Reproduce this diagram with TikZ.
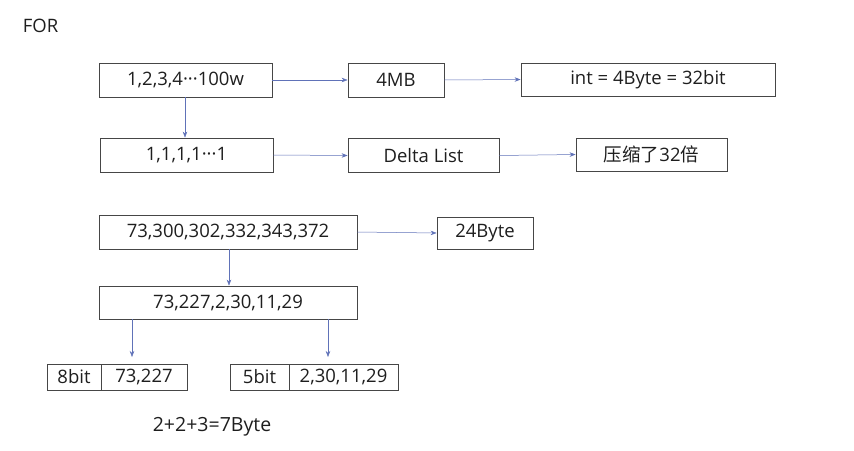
\documentclass[tikz,border=0pt]{standalone}
\usepackage{fontspec}
\setmainfont{Open Sans}
\newfontfamily\cjk{Noto Sans CJK SC}
\usetikzlibrary{arrows.meta}
\definecolor{arrowc}{RGB}{96,114,184}
\definecolor{boxc}{RGB}{70,70,70}
\definecolor{textc}{RGB}{30,30,30}
\begin{document}
\begin{tikzpicture}[x=1pt,y=-1pt,
  box/.style={draw=boxc,line width=0.8pt,inner sep=0pt,font=\fontsize{18.5}{21}\selectfont,text=textc},
  lbl/.style={inner sep=0pt,font=\fontsize{18.5}{21}\selectfont,text=textc},
  arr/.style={draw=arrowc,line width=0.5pt,-{Stealth[length=6pt,width=4.5pt]}}]
\useasboundingbox (0,0) rectangle (854,450);
\node[lbl] (for) at (40.5,26) {FOR};
\node[box,minimum width=173pt,minimum height=34pt] (a) at (185.5,80) {1,2,3,4···100w};
\node[box,minimum width=96pt,minimum height=34pt] (mb) at (396,80) {4MB};
\node[box,minimum width=254pt,minimum height=33pt] (int) at (648,79.5) {int = 4Byte = 32bit};
\node[box,minimum width=173pt,minimum height=34pt] (b) at (186.5,155) {1,1,1,1···1};
\node[box,minimum width=151pt,minimum height=34pt] (dl) at (423.5,155.5) {Delta List};
\node[box,minimum width=151pt,minimum height=33pt] (ys) at (651.5,154.5) {{\cjk 压缩了}32{\cjk 倍}};
\node[box,minimum width=258pt,minimum height=34pt] (c) at (228,232) {73,300,302,332,343,372};
\node[box,minimum width=96pt,minimum height=32pt] (by) at (485,233) {24Byte};
\node[box,minimum width=258pt,minimum height=33pt] (d) at (228,302.5) {73,227,2,30,11,29};
\node[box,minimum width=54pt,minimum height=26pt] (e1) at (74,377) {8bit};
\node[box,minimum width=86pt,minimum height=26pt] (e2) at (144,377) {73,227};
\node[box,minimum width=59pt,minimum height=26pt] (f1) at (259.5,377) {5bit};
\node[box,minimum width=109pt,minimum height=26pt] (f2) at (343.5,377) {2,30,11,29};
\node[lbl,font=\fontsize{19.5}{22}\selectfont] (sum) at (212,427) {2+2+3=7Byte};
\coordinate (ee) at (132,357);
\coordinate (ff) at (328,357);
\draw[arr] (a.east) -- (mb.west);
\draw[arr] (mb.east) -- (int.west);
\draw[arr] (a.south -| 185,0) -- (b.north -| 185,0);
\draw[arr] (b.east) -- (dl.west);
\draw[arr] (dl.east) -- (ys.west);
\draw[arr] (c.east) -- (by.west);
\draw[arr] (c.south -| 229,0) -- (d.north -| 229,0);
\draw[arr] (d.south -| ee) -- (ee);
\draw[arr] (d.south -| ff) -- (ff);
\end{tikzpicture}
\end{document}
